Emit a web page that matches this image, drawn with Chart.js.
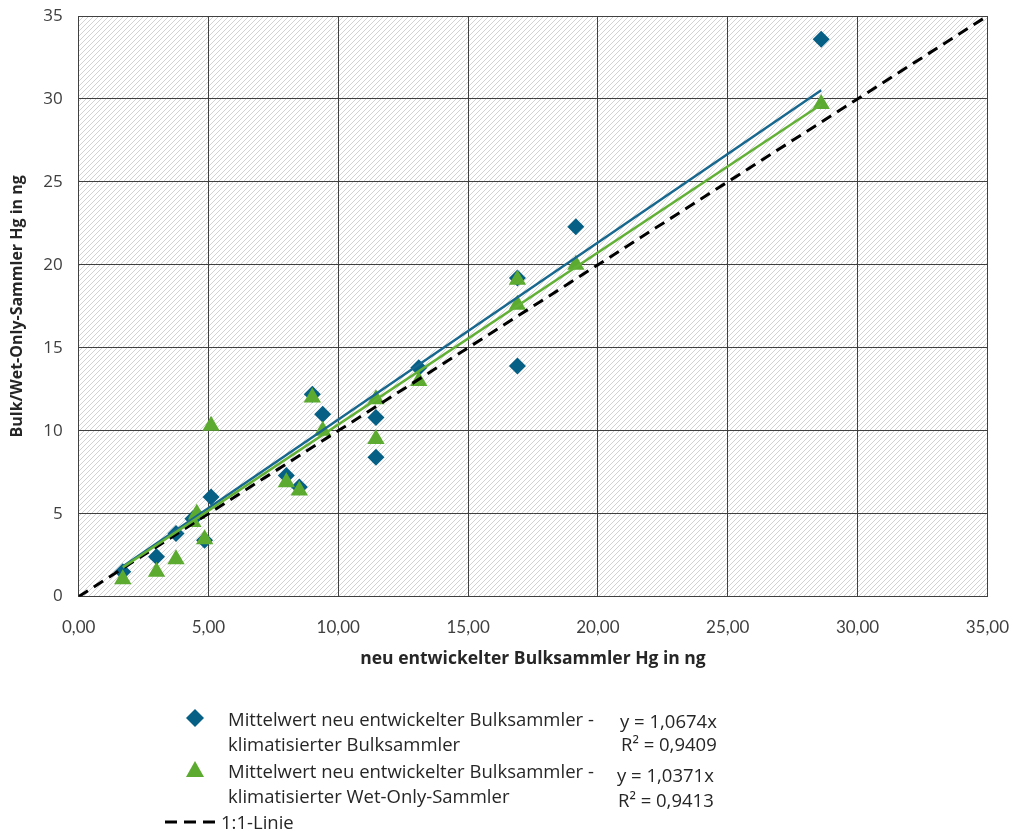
<!DOCTYPE html>
<html>
<head>
<meta charset="utf-8">
<script src="https://cdn.jsdelivr.net/npm/chart.js@4"></script>
<style>
  body { margin: 0; background: #fff; }
  #wrap { position: relative; width: 1013px; height: 831px; }
  .lg { position: absolute; font-family: 'Open Sans', sans-serif; font-size: 18.5px; color: #262626; white-space: nowrap; line-height: 22px; }
</style>
</head>
<body>
<div id="wrap">
  <canvas id="myChart" width="1013" height="831"></canvas>
  <svg style="position:absolute;left:185px;top:708px" width="20" height="20"><polygon points="10,1 19,10 10,19 1,10" fill="#065f85"/></svg>
  <div class="lg" style="left:228px;top:708px">Mittelwert neu entwickelter Bulksammler -</div>
  <div class="lg" style="left:228px;top:733px">klimatisierter Bulksammler</div>
  <div class="lg" style="left:620px;top:710px">y = 1,0674x</div>
  <div class="lg" style="left:621px;top:733px">R² = 0,9409</div>
  <svg style="position:absolute;left:185px;top:759px" width="20" height="20"><polygon points="10,2 19,18 1,18" fill="#5caa30"/></svg>
  <div class="lg" style="left:228px;top:760px">Mittelwert neu entwickelter Bulksammler -</div>
  <div class="lg" style="left:228px;top:785px">klimatisierter Wet-Only-Sammler</div>
  <div class="lg" style="left:617px;top:764px">y = 1,0371x</div>
  <div class="lg" style="left:618px;top:789px">R² = 0,9413</div>
  <svg style="position:absolute;left:165px;top:817px" width="52" height="10"><line x1="0" y1="5" x2="50" y2="5" stroke="#000" stroke-width="3" stroke-dasharray="12,7"/></svg>
  <div class="lg" style="left:221px;top:811px">1:1-Linie</div>
</div>
<script>
// x: neu entwickelter Bulksammler, y: Vergleichssammler (Hg in ng)
var xValues = [1.7, 3.0, 3.75, 4.4, 4.55, 4.85, 5.1, 8.0, 8.5, 9.0, 9.4, 11.45, 11.45, 13.1, 16.9, 16.9, 19.15, 28.6];
var bulkValues = [1.5, 2.4, 3.8, 4.7, 4.9, 3.4, 6.0, 7.3, 6.6, 12.2, 11.0, 10.8, 8.4, 13.8, 19.2, 13.9, 22.3, 33.6];
var wetOnlyValues = [1.05, 1.5, 2.25, 4.5, 5.0, 3.45, 10.3, 6.9, 6.4, 12.0, 10.0, 11.9, 9.5, 13.0, 19.1, 17.6, 20.0, 29.7];
var slopeBulk = 1.0674;
var slopeWetOnly = 1.0371;
var axisTicks = [0, 5, 10, 15, 20, 25, 30, 35];

var blue = '#065f85';
var green = '#5caa30';

function points(ys) {
    return xValues.map(function (x, i) { return { x: x, y: ys[i] }; });
}
var xMin = Math.min.apply(null, xValues);
var xMax = Math.max.apply(null, xValues);
function trend(k) {
    return [{ x: xMin, y: k * xMin }, { x: xMax, y: k * xMax }];
}

// schraffierter Hintergrund
var hatch = {
    id: 'hatch',
    beforeDraw: function (chart) {
        var a = chart.chartArea, ctx = chart.ctx;
        var tile = document.createElement('canvas');
        tile.width = 5; tile.height = 5;
        var t = tile.getContext('2d');
        t.strokeStyle = '#d2d2d2';
        t.lineWidth = 1;
        t.beginPath();
        t.moveTo(0, 5); t.lineTo(5, 0);
        t.moveTo(-1, 1); t.lineTo(1, -1);
        t.moveTo(4, 6); t.lineTo(6, 4);
        t.stroke();
        ctx.save();
        ctx.fillStyle = '#fff';
        ctx.fillRect(a.left, a.top, a.right - a.left, a.bottom - a.top);
        ctx.fillStyle = ctx.createPattern(tile, 'repeat');
        ctx.fillRect(a.left, a.top, a.right - a.left, a.bottom - a.top);
        ctx.restore();
    }
};

var ctx = document.getElementById('myChart').getContext('2d');
var myChart = new Chart(ctx, {
    type: 'scatter',
    data: {
        datasets: [{
            label: 'Mittelwert neu entwickelter Bulksammler - klimatisierter Bulksammler',
            data: points(bulkValues),
            pointStyle: 'rectRot',
            pointRadius: 8.5,
            pointHoverRadius: 8.5,
            backgroundColor: blue,
            borderColor: blue,
            borderWidth: 0,
            order: 5
        }, {
            label: 'Mittelwert neu entwickelter Bulksammler - klimatisierter Wet-Only-Sammler',
            data: points(wetOnlyValues),
            pointStyle: 'triangle',
            pointRadius: 10,
            pointHoverRadius: 10,
            backgroundColor: green,
            borderColor: green,
            borderWidth: 0,
            order: 4
        }, {
            label: 'Trend Bulk',
            data: trend(slopeBulk),
            showLine: true,
            borderColor: '#17678e',
            borderWidth: 2.5,
            pointRadius: 0,
            order: 2
        }, {
            label: 'Trend Wet-Only',
            data: trend(slopeWetOnly),
            showLine: true,
            borderColor: '#62b036',
            borderWidth: 2.5,
            pointRadius: 0,
            order: 1
        }, {
            label: '1:1-Linie',
            data: [{ x: axisTicks[0], y: axisTicks[0] }, { x: axisTicks[axisTicks.length - 1], y: axisTicks[axisTicks.length - 1] }],
            showLine: true,
            borderColor: '#000',
            borderWidth: 3,
            borderDash: [11, 7],
            pointRadius: 0,
            order: 3
        }]
    },
    options: {
        responsive: false,
        animation: false,
        layout: { padding: { top: 16, left: 8, right: 0, bottom: 161 } },
        plugins: {
            legend: { display: false },
            tooltip: { enabled: false }
        },
        scales: {
            x: {
                min: 0, max: 35,
                afterBuildTicks: function (s) { s.ticks = axisTicks.map(function (v) { return { value: v }; }); },
                grid: { color: '#404040', lineWidth: 1, drawTicks: true, tickLength: 17, tickColor: 'rgba(0,0,0,0)' },
                border: { color: '#404040', width: 1 },
                ticks: {
                    padding: 4,
                    color: '#404040',
                    font: { family: "Lato, sans-serif", size: 17 },
                    callback: function (v) { return v.toFixed(2).replace('.', ','); }
                },
                title: {
                    display: true,
                    text: 'neu entwickelter Bulksammler Hg in ng',
                    color: '#262626',
                    font: { family: "'Open Sans', sans-serif", size: 17.5, weight: 'bold' },
                    padding: { top: 7, bottom: 0 }
                }
            },
            y: {
                min: 0, max: 35,
                afterBuildTicks: function (s) { s.ticks = axisTicks.map(function (v) { return { value: v }; }); },
                grid: { color: '#404040', lineWidth: 1, drawTicks: true, tickLength: 12, tickColor: 'rgba(0,0,0,0)' },
                border: { color: '#404040', width: 1 },
                ticks: {
                    padding: 4,
                    color: '#404040',
                    font: { family: "'Open Sans', sans-serif", size: 17 }
                },
                title: {
                    display: true,
                    text: 'Bulk/Wet-Only-Sammler Hg in ng',
                    color: '#262626',
                    font: { family: "'Open Sans', sans-serif", size: 16, weight: 'bold' },
                    padding: { top: 0, bottom: 12 }
                }
            }
        }
    },
    plugins: [hatch]
});
</script>
</body>
</html>
